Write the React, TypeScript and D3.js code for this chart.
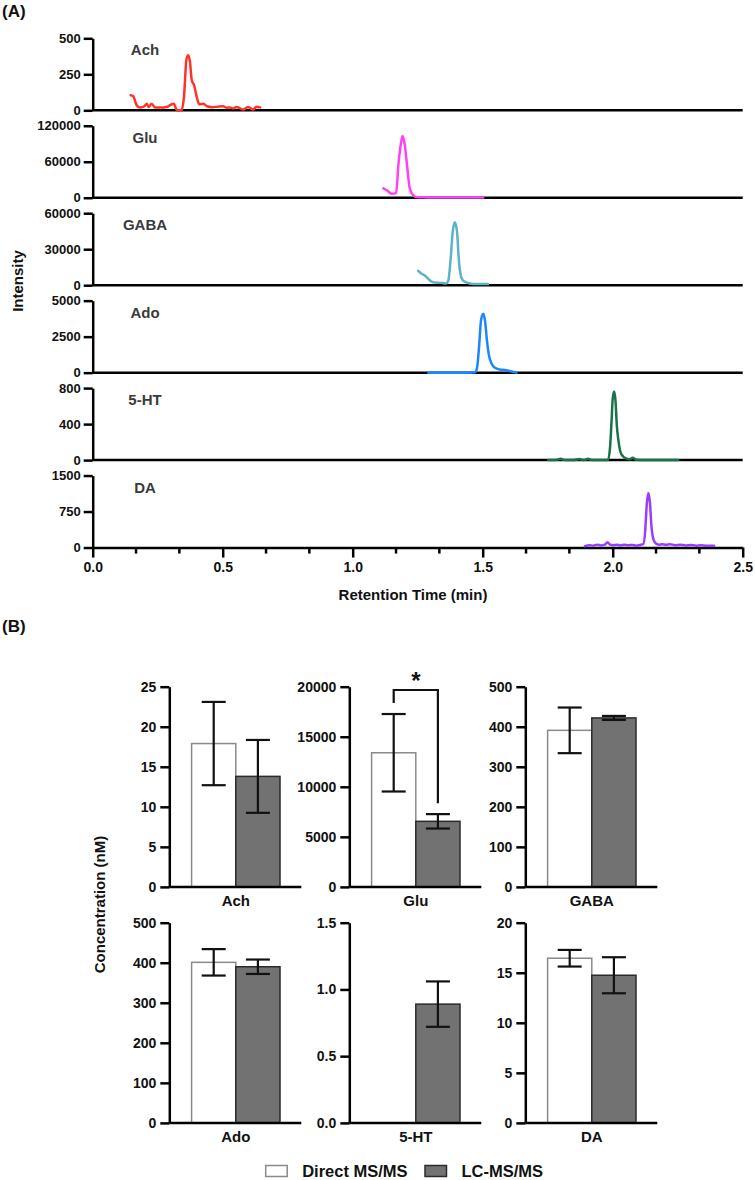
import { useEffect, useRef } from 'react'
import * as d3 from 'd3'

const W = 755
const H = 1180
const FONT = '"Liberation Sans", Arial, Helvetica, sans-serif'

// ── Chromatograms: [retention time (min), intensity] ──────────────────────────
const ACH_TRACE: [number, number][] = [
  [0.146, 105], [0.156, 98], [0.169, 35], [0.182, 19], [0.199, 28], [0.208, 46], [0.215, 23],
  [0.227, 46], [0.24, 19], [0.259, 19], [0.285, 23], [0.304, 42], [0.313, 46], [0.32, 12],
  [0.325, 0], [0.342, 0], [0.351, 93], [0.361, 360], [0.368, 383], [0.374, 337], [0.381, 209],
  [0.39, 174], [0.4, 93], [0.41, 42], [0.426, 46], [0.439, 28], [0.46, 22], [0.48, 25],
  [0.502, 28], [0.515, 18], [0.528, 20], [0.54, 12], [0.553, 23], [0.565, 15], [0.579, 5],
  [0.598, 23], [0.617, 5], [0.63, 25], [0.644, 20],
]
const GLU_TRACE: [number, number][] = [
  [1.118, 15700], [1.131, 12400], [1.15, 6700], [1.167, 7700], [1.176, 55900], [1.185, 89000],
  [1.192, 103000], [1.2, 89000], [1.21, 50000], [1.219, 16700], [1.232, 4500], [1.251, 700],
  [1.29, 600], [1.34, 400], [1.4, 500], [1.45, 300], [1.502, 400],
]
const GABA_TRACE: [number, number][] = [
  [1.252, 11900], [1.262, 10000], [1.277, 8000], [1.29, 5500], [1.3, 3500], [1.315, 2200],
  [1.33, 2000], [1.345, 1800], [1.36, 1500], [1.368, 4000], [1.376, 20000], [1.385, 45000],
  [1.393, 52500], [1.401, 45000], [1.408, 22000], [1.414, 10000], [1.422, 4500], [1.435, 2500],
  [1.45, 1500], [1.48, 1000], [1.52, 900],
]
const ADO_TRACE: [number, number][] = [
  [1.291, 0], [1.35, 0], [1.4, 0], [1.45, 0], [1.47, 20], [1.478, 300], [1.486, 1800],
  [1.494, 3700], [1.502, 4090], [1.509, 3600], [1.516, 2300], [1.524, 1200], [1.535, 600],
  [1.547, 340], [1.565, 220], [1.585, 180], [1.61, 80], [1.63, 0],
]
const HT_TRACE: [number, number][] = [
  [1.752, 0], [1.78, 0], [1.8, 15], [1.815, 0], [1.85, 0], [1.872, 12], [1.89, 0], [1.905, 15],
  [1.92, 0], [1.95, 0], [1.982, 0], [1.99, 150], [1.996, 456], [2.0, 680], [2.006, 762],
  [2.011, 650], [2.016, 381], [2.022, 220], [2.03, 90], [2.04, 40], [2.05, 20], [2.065, 10],
  [2.077, 25], [2.09, 5], [2.12, 0], [2.2, 0], [2.252, 0],
]
const DA_TRACE: [number, number][] = [
  [1.893, 30], [1.91, 50], [1.925, 40], [1.94, 60], [1.955, 45], [1.97, 60], [1.98, 110],
  [1.99, 60], [2.0, 50], [2.015, 60], [2.03, 45], [2.045, 60], [2.06, 50], [2.075, 55],
  [2.09, 40], [2.105, 55], [2.118, 70], [2.125, 350], [2.131, 900], [2.137, 1138], [2.143, 950],
  [2.149, 450], [2.156, 180], [2.165, 90], [2.178, 60], [2.19, 70], [2.205, 60], [2.22, 70],
  [2.24, 50], [2.26, 60], [2.28, 45], [2.3, 55], [2.32, 40], [2.34, 50], [2.36, 40], [2.39, 40],
]

const ANALYTES = ['Ach', 'Glu', 'GABA', 'Ado', '5-HT', 'DA']
const TRACES = [ACH_TRACE, GLU_TRACE, GABA_TRACE, ADO_TRACE, HT_TRACE, DA_TRACE]
const TRACE_COLORS = ['#ff3326', '#ff40f5', '#5db3c6', '#1a86ff', '#17734a', '#9a3dff']
const INTENSITY_MAX = [500, 120000, 60000, 5000, 800, 1500]
const INTENSITY_TICKS = [
  [0, 250, 500], [0, 60000, 120000], [0, 30000, 60000], [0, 2500, 5000], [0, 400, 800], [0, 750, 1500],
]
const RT_TICKS = [0, 0.5, 1.0, 1.5, 2.0, 2.5]

// ── Concentrations (nM), mean ± error ─────────────────────────────────────────
const METHODS = ['Direct MS/MS', 'LC-MS/MS']
const DIRECT_MEAN: (number | null)[] = [17.9, 13400, 391, 401, null, 16.45]
const DIRECT_ERR: (number | null)[] = [5.2, 3870, 57, 33, null, 0.83]
const LC_MEAN = [13.8, 6550, 422, 390, 0.89, 14.75]
const LC_ERR = [4.55, 720, 5, 18, 0.17, 1.8]
const CONC_MAX = [25, 20000, 500, 500, 1.5, 20]
const CONC_TICKS = [
  [0, 5, 10, 15, 20, 25],
  [0, 5000, 10000, 15000, 20000],
  [0, 100, 200, 300, 400, 500],
  [0, 100, 200, 300, 400, 500],
  [0, 0.5, 1.0, 1.5],
  [0, 5, 10, 15, 20],
]
const SIGNIFICANT = [{ analyte: 'Glu', mark: '*' }]

// ── Layout ───────────────────────────────────────────────────────────────────
const A_LEFT = 92.7
const A_RIGHT = 742.7
const A_TOP = 38.3
const A_STEP = 87.45
const A_H = 72
const B_COLS = [169.3, 349.3, 525.3]
const B_ROWS = [686.7, 922.7]
const B_H = 200.2
const B_W = 132

const BAR_STYLE = [
  { fill: '#ffffff', stroke: '#8a8a8a' },
  { fill: '#727272', stroke: '#2b2b2b' },
]

type G = d3.Selection<SVGGElement, unknown, null, undefined>

function styleAxis(ag: G, size: number) {
  ag.attr('font-family', FONT).attr('font-weight', 'bold').attr('font-size', size)
  ag.select('.domain').attr('stroke', '#000').attr('stroke-width', 2.5)
  ag.selectAll('.tick line').attr('stroke', '#000').attr('stroke-width', 2.5)
  ag.selectAll('text').attr('fill', '#111')
}

export default function App() {
  const svgRef = useRef<SVGSVGElement>(null)

  useEffect(() => {
    const svg = d3.select(svgRef.current!)
    svg.selectAll('*').remove()
    svg.attr('font-family', FONT).attr('font-weight', 'bold')

    svg.append('rect').attr('width', W).attr('height', H).attr('fill', '#fff')

    // ── (A) stacked chromatograms ──────────────────────────────────────────────
    svg.append('text').attr('x', 2).attr('y', 17).attr('font-size', 17).attr('fill', '#111').text('(A)')

    const x = d3.scaleLinear([0, 2.5], [A_LEFT, A_RIGHT])

    TRACES.forEach((trace, i) => {
      const top = A_TOP + i * A_STEP
      const y = d3.scaleLinear([0, INTENSITY_MAX[i]], [top + A_H, top])
      const g = svg.append('g')

      g.append('g')
        .attr('transform', `translate(${A_LEFT},0)`)
        .call(d3.axisLeft(y).tickValues(INTENSITY_TICKS[i]).tickSize(9).tickSizeOuter(0).tickPadding(3).tickFormat(d3.format('d')))
        .call(ag => styleAxis(ag, 13))

      if (i === TRACES.length - 1) {
        const xa = g.append('g')
          .attr('transform', `translate(0,${y(0)})`)
          .call(d3.axisBottom(x).tickValues(RT_TICKS).tickSize(10).tickSizeOuter(0).tickPadding(5).tickFormat(d3.format('.1f')))
          .call(ag => styleAxis(ag, 14))
        const minor = d3.range(0, 15).map(k => k / 6).filter(v => k6(v))
        function k6(v: number) { return Math.abs(v * 2 - Math.round(v * 2)) > 1e-6 }
        xa.selectAll('.minor').data(minor).join('line')
          .attr('x1', d => x(d)).attr('x2', d => x(d)).attr('y1', 0).attr('y2', 6)
          .attr('stroke', '#000').attr('stroke-width', 2.5)
      } else {
        g.append('line')
          .attr('x1', A_LEFT).attr('x2', A_RIGHT).attr('y1', y(0)).attr('y2', y(0))
          .attr('stroke', '#000').attr('stroke-width', 2.5)
      }

      g.append('path')
        .datum(trace)
        .attr('d', d3.line<[number, number]>().x(d => x(d[0])).y(d => y(d[1])).curve(d3.curveMonotoneX))
        .attr('fill', 'none').attr('stroke', TRACE_COLORS[i]).attr('stroke-width', 2.5)
        .attr('stroke-linejoin', 'round').attr('stroke-linecap', 'round')

      g.append('text')
        .attr('x', 145).attr('y', top + 17)
        .attr('text-anchor', 'middle').attr('font-size', 15).attr('fill', '#3a3a3a')
        .text(ANALYTES[i])
    })

    svg.append('text')
      .attr('transform', `translate(23,281) rotate(-90)`)
      .attr('text-anchor', 'middle').attr('font-size', 15).attr('fill', '#111')
      .text('Intensity')

    svg.append('text')
      .attr('x', 413).attr('y', 600)
      .attr('text-anchor', 'middle').attr('font-size', 15).attr('fill', '#111')
      .text('Retention Time (min)')

    // ── (B) concentration bar charts ──────────────────────────────────────────
    svg.append('text').attr('x', 2).attr('y', 632).attr('font-size', 17).attr('fill', '#111').text('(B)')

    ANALYTES.forEach((name, i) => {
      const ax = B_COLS[i % 3]
      const top = B_ROWS[Math.floor(i / 3)]
      const y = d3.scaleLinear([0, CONC_MAX[i]], [top + B_H, top])
      const xb = d3.scaleBand<string>(METHODS, [ax + 22.3, ax + 110.7])
      const g = svg.append('g')

      const rows = [
        { m: METHODS[0], mean: DIRECT_MEAN[i], err: DIRECT_ERR[i] },
        { m: METHODS[1], mean: LC_MEAN[i], err: LC_ERR[i] },
      ]

      rows.forEach((r, k) => {
        if (r.mean == null || r.err == null) return
        const bx = xb(r.m)!
        g.append('rect')
          .attr('x', bx).attr('width', xb.bandwidth())
          .attr('y', y(r.mean)).attr('height', y(0) - y(r.mean))
          .attr('fill', BAR_STYLE[k].fill).attr('stroke', BAR_STYLE[k].stroke).attr('stroke-width', 1.5)
        const cx = bx + xb.bandwidth() / 2
        const y1 = y(r.mean + r.err)
        const y2 = y(r.mean - r.err)
        g.append('line').attr('x1', cx).attr('x2', cx).attr('y1', y1).attr('y2', y2)
          .attr('stroke', '#111').attr('stroke-width', 2.2)
        ;[y1, y2].forEach(yy => {
          g.append('line').attr('x1', cx - 12).attr('x2', cx + 12).attr('y1', yy).attr('y2', yy)
            .attr('stroke', '#111').attr('stroke-width', 2.2)
        })
      })

      g.append('g')
        .attr('transform', `translate(${ax},0)`)
        .call(d3.axisLeft(y).tickValues(CONC_TICKS[i]).tickSize(9).tickSizeOuter(0).tickPadding(4)
          .tickFormat(i === 4 ? d3.format('.1f') : d3.format('d')))
        .call(ag => styleAxis(ag, 14))

      g.append('line')
        .attr('x1', ax).attr('x2', ax + B_W).attr('y1', y(0)).attr('y2', y(0))
        .attr('stroke', '#000').attr('stroke-width', 2.5)

      g.append('text')
        .attr('x', ax + 66.5).attr('y', top + B_H + 19)
        .attr('text-anchor', 'middle').attr('font-size', 15).attr('fill', '#111')
        .text(name)

      const sig = SIGNIFICANT.find(s => s.analyte === name)
      if (sig) {
        const c0 = xb(METHODS[0])! + xb.bandwidth() / 2
        const c1 = xb(METHODS[1])! + xb.bandwidth() / 2
        const by = y(CONC_MAX[i]) + 3.3
        const l0 = y((DIRECT_MEAN[i] as number) + (DIRECT_ERR[i] as number)) - 11
        const l1 = y(LC_MEAN[i] + LC_ERR[i]) - 11
        g.append('path')
          .attr('d', `M${c0},${l0}V${by}H${c1}V${l1}`)
          .attr('fill', 'none').attr('stroke', '#111').attr('stroke-width', 2.2)
        g.append('text')
          .attr('x', (c0 + c1) / 2).attr('y', by - 1)
          .attr('text-anchor', 'middle').attr('font-size', 24).attr('fill', '#111')
          .text(sig.mark)
      }
    })

    svg.append('text')
      .attr('transform', `translate(105,904.5) rotate(-90)`)
      .attr('text-anchor', 'middle').attr('font-size', 15).attr('fill', '#111')
      .text('Concentration (nM)')

    // ── Legend ────────────────────────────────────────────────────────────────
    const legendX = [265.7, 425]
    METHODS.forEach((m, k) => {
      svg.append('rect')
        .attr('x', legendX[k]).attr('y', 1165.5).attr('width', 21.5).attr('height', 11)
        .attr('fill', BAR_STYLE[k].fill).attr('stroke', BAR_STYLE[k].stroke).attr('stroke-width', 1.5)
      svg.append('text')
        .attr('x', legendX[k] + 36.5).attr('y', 1177)
        .attr('font-size', 16.5).attr('fill', '#111')
        .text(m)
    })
  }, [])

  return (
    <svg
      ref={svgRef}
      width={W}
      height={H}
      style={{ position: 'absolute', left: 0, top: 0, display: 'block' }}
    />
  )
}
